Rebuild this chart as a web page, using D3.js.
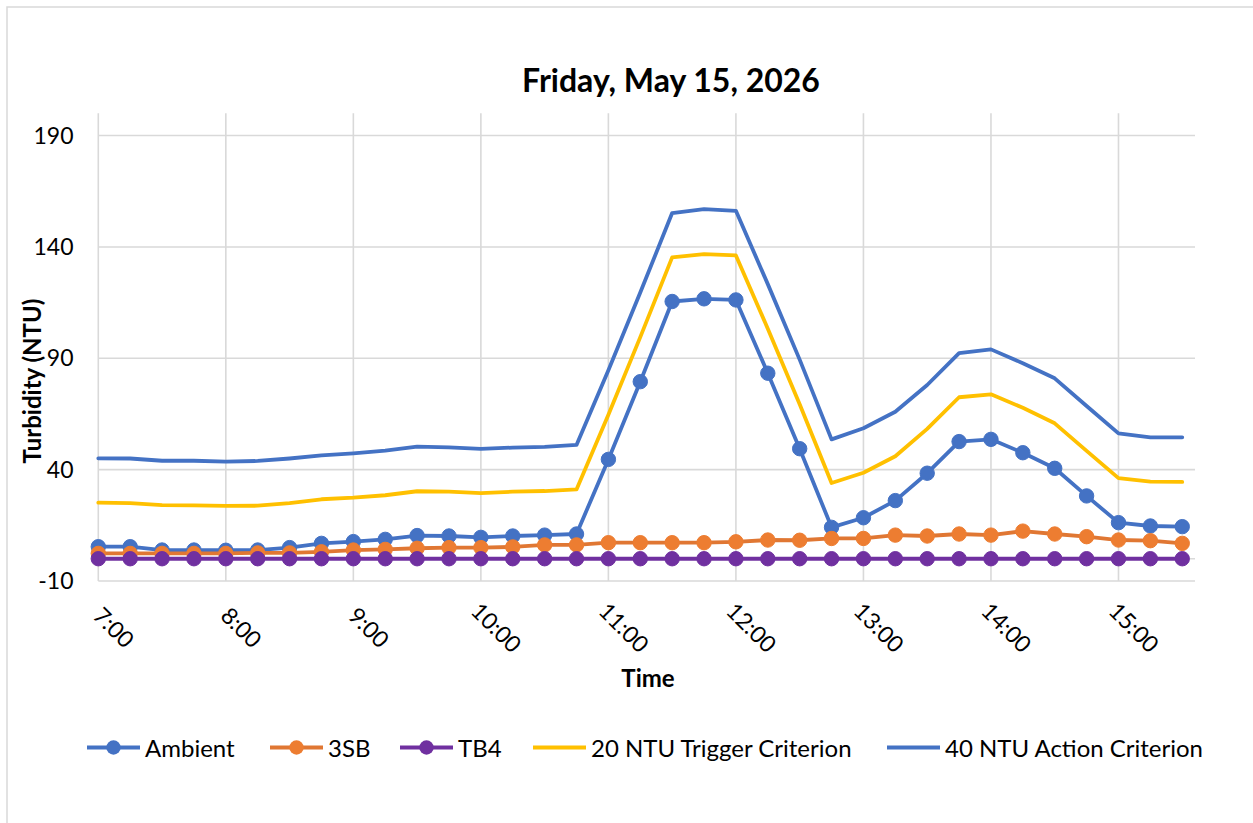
<!DOCTYPE html>
<html>
<head>
<meta charset="utf-8">
<script src="https://cdn.jsdelivr.net/npm/d3@7"></script>
<style>
  html, body { margin: 0; padding: 0; background: #fff; }
  svg { display: block; font-family: Lato, "Noto Sans", sans-serif; }
</style>
</head>
<body>
<svg id="chart" width="1253" height="823"></svg>
<script>
// ---------- data ----------
const times = ["7:00","7:15","7:30","7:45","8:00","8:15","8:30","8:45","9:00","9:15","9:30","9:45",
  "10:00","10:15","10:30","10:45","11:00","11:15","11:30","11:45","12:00","12:15","12:30","12:45",
  "13:00","13:15","13:30","13:45","14:00","14:15","14:30","14:45","15:00","15:15","15:30"];
const ambient = [5.4,5.4,3.9,3.9,3.8,3.9,5.0,6.9,7.7,8.7,10.4,10.2,
  9.6,10.2,10.6,11.1,44.6,79.5,115.5,116.7,116.2,83.3,49.4,14.1,
  18.4,26.1,38.4,52.6,53.6,47.6,40.6,28.2,16.2,14.7,14.4];
const sb3 = [2.4,2.4,2.4,2.4,2.4,2.6,2.6,3.1,3.9,4.2,4.7,5.0,
  5.0,5.3,6.2,6.2,7.2,7.2,7.2,7.2,7.6,8.4,8.3,9.1,
  9.1,10.6,10.2,11.1,10.6,12.4,11.1,9.9,8.4,8.1,6.9];
const tb4 = [0,0,0,0,0,0,0,0,0,0,0,0,0,0,0,0,0,0,0,0,0,0,0,0,0,0,0,0,0,0,0,0,0,0,0];
const trigger20 = [25.2,25.0,24.1,24.0,23.7,23.8,25.0,26.7,27.4,28.5,30.3,30.1,
  29.5,30.1,30.4,31.1,64.6,99.5,135.3,136.8,136.2,103.3,69.4,34.0,
  38.6,46.0,58.3,72.5,73.8,67.8,60.8,48.4,36.2,34.6,34.5];
const action40 = [45.1,45.0,44.0,44.0,43.6,43.9,45.0,46.4,47.3,48.5,50.3,50.0,
  49.3,49.9,50.2,51.1,84.6,119.5,155.2,157.0,156.2,123.3,89.4,53.6,
  58.6,66.0,78.0,92.3,94.0,87.8,81.0,68.6,56.3,54.5,54.5];
const yTicks = [-10, 40, 90, 140, 190];
const xTickLabels = ["7:00","8:00","9:00","10:00","11:00","12:00","13:00","14:00","15:00"];
const seriesNames = ["Ambient","3SB","TB4","20 NTU Trigger Criterion","40 NTU Action Criterion"];

// ---------- helpers ----------
const toHours = s => { const [h, m] = s.split(":").map(Number); return h + m / 60; };
const hours = times.map(toHours);

const series = [
  { name: seriesNames[0], values: ambient,   line: "#4472C4", fill: "#4472C4", marker: true },
  { name: seriesNames[1], values: sb3,       line: "#E07733", fill: "#ED7D31", marker: true },
  { name: seriesNames[2], values: tb4,       line: "#7030A0", fill: "#7030A0", marker: true },
  { name: seriesNames[3], values: trigger20, line: "#FFC000", fill: "#FFC000", marker: false },
  { name: seriesNames[4], values: action40,  line: "#4472C4", fill: "#4472C4", marker: false }
];

const svg = d3.select("#chart");
const plot = { left: 98.3, right: 1195, top: 113.3, bottom: 581 };

const x = d3.scaleLinear().domain([7, 15.6]).range([plot.left, plot.right]);
const y = d3.scaleLinear().domain([-10, 200]).range([plot.bottom, plot.top]);

// chart border (extends past the image on right/bottom as in the reference)
svg.append("rect").attr("x", 7).attr("y", 7).attr("width", 1300).attr("height", 900)
  .attr("fill", "none").attr("stroke", "#d9d9d9").attr("stroke-width", 1.5);

// gridlines
const grid = svg.append("g").attr("stroke", "#d9d9d9").attr("stroke-width", 1.6);
grid.selectAll("line.h").data(yTicks).join("line").attr("class", "h")
  .attr("x1", plot.left).attr("x2", plot.right)
  .attr("y1", d => y(d)).attr("y2", d => y(d));
grid.selectAll("line.v").data(xTickLabels.map(toHours)).join("line").attr("class", "v")
  .attr("x1", d => x(d)).attr("x2", d => x(d))
  .attr("y1", plot.top).attr("y2", plot.bottom);
// horizontal axis line at 0
grid.append("line").attr("x1", plot.left).attr("x2", plot.right)
  .attr("y1", y(0)).attr("y2", y(0));

// y tick labels
svg.append("g").selectAll("text").data(yTicks).join("text")
  .attr("x", 73.5).attr("y", d => y(d)).attr("dy", "0.35em")
  .attr("text-anchor", "end").attr("font-size", 23).attr("fill", "#000")
  .text(d => d);

// x tick labels (rotated 45deg)
svg.append("g").selectAll("text").data(xTickLabels).join("text")
  .attr("transform", d => `translate(${x(toHours(d)) + 16},627) rotate(45)`)
  .attr("text-anchor", "middle").attr("dominant-baseline", "central")
  .attr("font-size", 23).attr("fill", "#000")
  .text(d => d);

// series
const lineGen = d3.line().x((d, i) => x(hours[i])).y(d => y(d));
const sg = svg.append("g");
series.forEach(s => {
  const g = sg.append("g");
  g.append("path").datum(s.values).attr("d", lineGen)
    .attr("fill", "none").attr("stroke", s.line).attr("stroke-width", 3.8)
    .attr("stroke-linejoin", "round").attr("stroke-linecap", "round");
  if (s.marker) {
    g.selectAll("circle").data(s.values).join("circle")
      .attr("cx", (d, i) => x(hours[i])).attr("cy", d => y(d)).attr("r", 7.2)
      .attr("fill", s.fill).attr("stroke", s.fill).attr("stroke-width", 1);
  }
});

// title
svg.append("text").attr("x", 671).attr("y", 92)
  .attr("text-anchor", "middle").attr("font-size", 32).attr("font-weight", "bold")
  .text("Friday, May 15, 2026");

// axis titles
svg.append("text").attr("transform", "translate(31,381) rotate(-90)")
  .attr("text-anchor", "middle").attr("dominant-baseline", "central")
  .attr("font-size", 24).attr("font-weight", "bold")
  .text("Turbidity (NTU)");
svg.append("text").attr("x", 648).attr("y", 677).attr("dominant-baseline", "central")
  .attr("text-anchor", "middle").attr("font-size", 24).attr("font-weight", "bold")
  .text("Time");

// legend
const legendX = [87, 270, 400, 533, 887];
const ly = 747.5;
const lg = svg.append("g");
series.forEach((s, i) => {
  const g = lg.append("g").attr("transform", `translate(${legendX[i]},${ly})`);
  g.append("line").attr("x1", 0).attr("x2", 53).attr("y1", 0).attr("y2", 0)
    .attr("stroke", s.line).attr("stroke-width", 3.8);
  if (s.marker) {
    g.append("circle").attr("cx", 26.5).attr("cy", 0).attr("r", 7.2).attr("fill", s.fill);
  }
  g.append("text").attr("x", 58).attr("y", 0).attr("dominant-baseline", "central")
    .attr("font-size", 24).attr("fill", "#000").text(s.name);
});
</script>
</body>
</html>
